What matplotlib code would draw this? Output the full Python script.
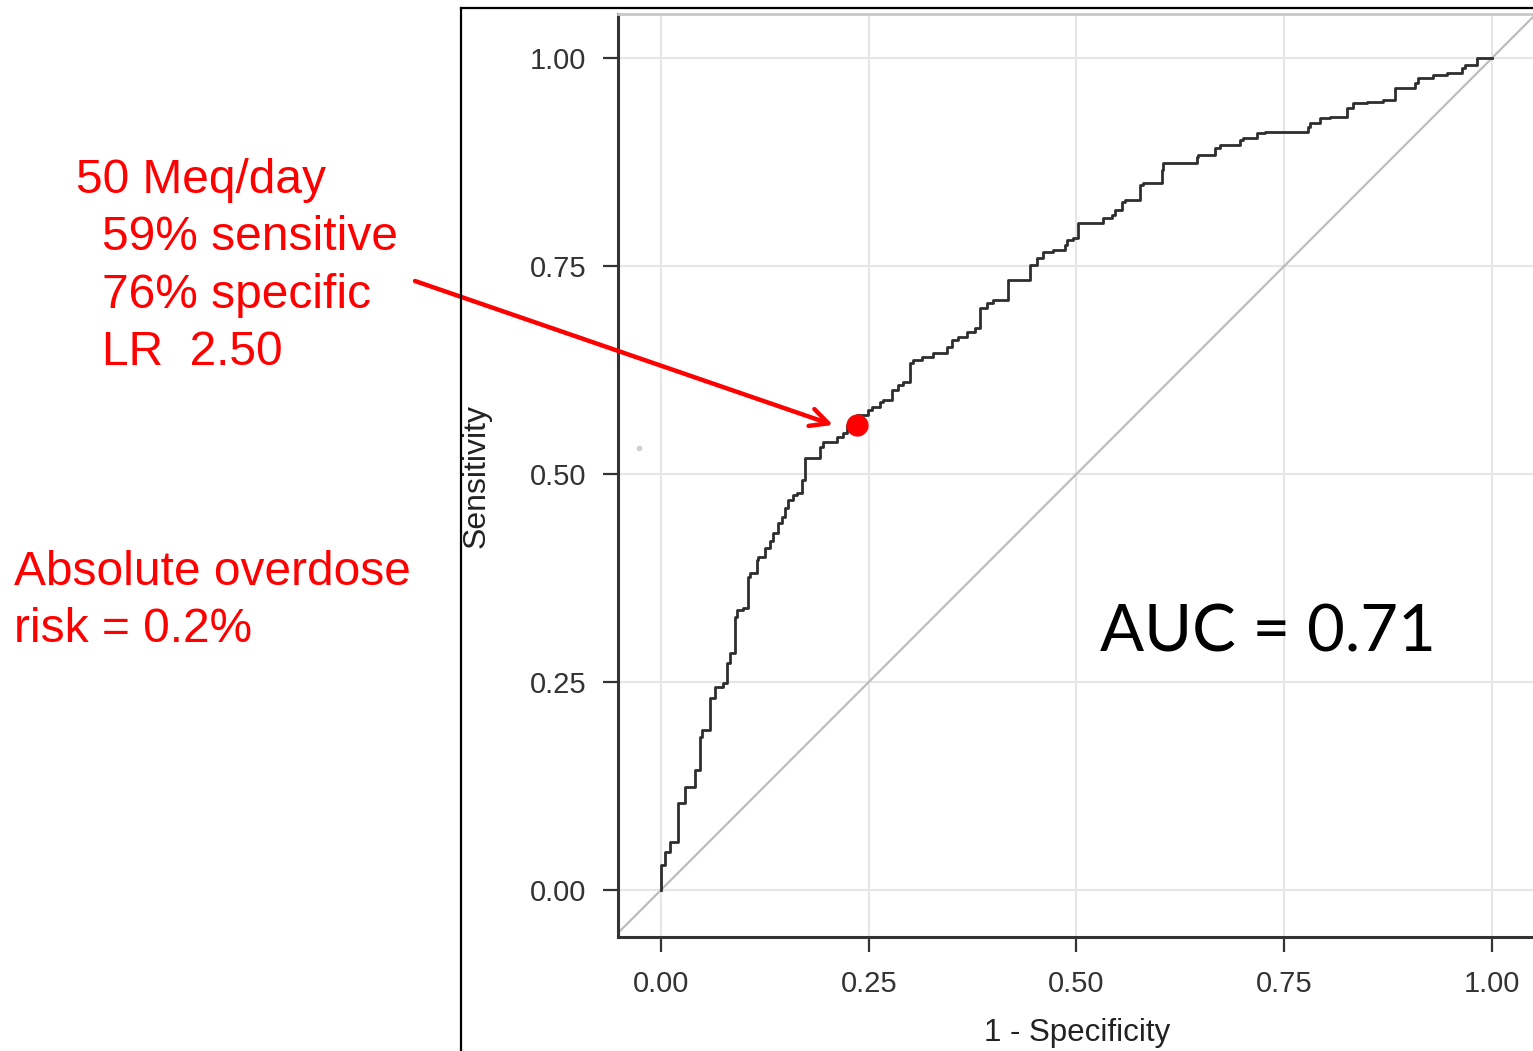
import matplotlib
matplotlib.use("Agg")
import matplotlib.pyplot as plt
from matplotlib.lines import Line2D

# ── Data ──────────────────────────────────────────────────────────────────────
FPR = [0.0, 0.0, 0.005, 0.011, 0.02, 0.029, 0.041, 0.047, 0.049, 0.059, 0.059,
       0.065, 0.075, 0.08, 0.083, 0.089, 0.091, 0.099, 0.105, 0.107, 0.115,
       0.117, 0.125, 0.131, 0.135, 0.141, 0.146, 0.149, 0.153, 0.159, 0.164,
       0.17, 0.173, 0.177, 0.191, 0.195, 0.2, 0.212, 0.219, 0.224, 0.236,
       0.249, 0.254, 0.264, 0.267, 0.278, 0.285, 0.291, 0.3, 0.303, 0.314,
       0.327, 0.332, 0.344, 0.35, 0.357, 0.368, 0.378, 0.384, 0.384, 0.392,
       0.4, 0.408, 0.418, 0.418, 0.444, 0.444, 0.452, 0.46, 0.472, 0.486,
       0.489, 0.496, 0.502, 0.508, 0.532, 0.543, 0.546, 0.555, 0.558, 0.576,
       0.58, 0.603, 0.604, 0.613, 0.645, 0.646, 0.667, 0.673, 0.697, 0.7,
       0.717, 0.727, 0.745, 0.779, 0.781, 0.793, 0.805, 0.826, 0.833, 0.85,
       0.869, 0.883, 0.883, 0.907, 0.911, 0.929, 0.946, 0.964, 0.967, 0.982,
       0.983, 1.0]
TPR = [0.0, 0.02, 0.03, 0.046, 0.058, 0.105, 0.124, 0.144, 0.184, 0.192, 0.214,
       0.231, 0.244, 0.249, 0.273, 0.285, 0.328, 0.337, 0.339, 0.376, 0.381,
       0.397, 0.40, 0.411, 0.42, 0.429, 0.441, 0.448, 0.459, 0.469, 0.475,
       0.477, 0.493, 0.519, 0.519, 0.533, 0.538, 0.538, 0.545, 0.549, 0.559,
       0.571, 0.577, 0.58, 0.587, 0.589, 0.601, 0.607, 0.611, 0.633, 0.637,
       0.641, 0.645, 0.645, 0.653, 0.661, 0.665, 0.671, 0.675, 0.695, 0.7,
       0.706, 0.709, 0.709, 0.733, 0.733, 0.749, 0.751, 0.76, 0.767, 0.769,
       0.775, 0.781, 0.784, 0.802, 0.802, 0.808, 0.811, 0.817, 0.827, 0.829,
       0.847, 0.85, 0.865, 0.874, 0.874, 0.881, 0.883, 0.892, 0.895, 0.901,
       0.904, 0.91, 0.911, 0.911, 0.917, 0.922, 0.928, 0.929, 0.94, 0.946,
       0.947, 0.95, 0.964, 0.964, 0.97, 0.976, 0.98, 0.982, 0.988, 0.991,
       1.0, 1.0]

CUTOFF_POINT = (0.236, 0.559)      # 50 Meq/day
STRAY_POINT = (-0.027, 0.531)      # faint grey speck in the source image

TICKS = [0.0, 0.25, 0.5, 0.75, 1.0]
TICK_LABELS = ["0.00", "0.25", "0.50", "0.75", "1.00"]

NOTE_LINES = ["50 Meq/day", "59% sensitive", "76% specific", "LR  2.50"]
RISK_LINES = ["Absolute overdose", "risk = 0.2%"]
AUC_TEXT = "AUC = 0.71"

RED = "#FF0000"
DARK = "#333333"
GRID = "#E6E6E6"

W, H = 1533, 1051
fig = plt.figure(figsize=(W / 100, H / 100), dpi=100, facecolor="white")

# axes box in pixels: left 618, right 1533, bottom 937, top 14
ax = fig.add_axes([618 / W, (H - 937) / H, (W - 618) / W, (937 - 14) / H])
ax.set_xlim(-0.0517, 1.0493)
ax.set_ylim(-0.0565, 1.0529)

ax.grid(True, color=GRID, lw=1.5)
ax.set_axisbelow(True)
ax.axline((0, 0), slope=1, color="#BDBDBD", lw=1.6, zorder=2)
ax.plot(FPR, TPR, drawstyle="steps-pre", color="#2E2E2E", lw=2.0, zorder=3)
ax.plot(*STRAY_POINT, "o", ms=4, color="#CFCFCF", mec="none", zorder=2)
ax.plot(*CUTOFF_POINT, "o", ms=16, color=RED, mec="none", zorder=5)

ax.set_xticks(TICKS)
ax.set_xticklabels(TICK_LABELS)
ax.set_yticks(TICKS)
ax.set_yticklabels(TICK_LABELS)
ax.tick_params(direction="out", length=11, width=1.6, color=DARK,
               labelcolor=DARK, labelsize=21)
ax.tick_params(axis="y", pad=12)
ax.tick_params(axis="x", pad=13)
for lbl in ax.get_xticklabels() + ax.get_yticklabels():
    lbl.set_family("Liberation Sans")

for side in ("left", "bottom"):
    ax.spines[side].set_linewidth(2.2)
    ax.spines[side].set_color(DARK)
ax.spines["top"].set_color("#C8C8C8")
ax.spines["top"].set_linewidth(2)
ax.spines["right"].set_visible(False)

ax.set_xlabel("1 - Specificity", family="Liberation Sans", fontsize=22.5,
              color="#222222", va="top")
ax.xaxis.set_label_coords(0.5016, -0.088)
ax.set_ylabel("Sensitivity", family="Liberation Sans", fontsize=23,
              color="#222222")
ax.yaxis.set_label_coords(-0.138, 0.5)

fig.text(1100 / W, (H - 651) / H, AUC_TEXT, family="Lato", fontsize=47,
         color="black", ha="left", va="baseline")

# outer frame of the pasted image
fig.add_artist(Line2D([461 / W, 461 / W], [0, (H - 8) / H], color="black",
                      lw=1.6, transform=fig.transFigure))
fig.add_artist(Line2D([461 / W, 1], [(H - 8) / H, (H - 8) / H], color="black",
                      lw=1.6, transform=fig.transFigure))

# red annotation text
FS = 34.5
fig.text(76 / W, (H - 193) / H, NOTE_LINES[0], family="Liberation Sans",
         fontsize=FS, color=RED, va="baseline")
for i, line in enumerate(NOTE_LINES[1:]):
    fig.text(102 / W, (H - 250 - 57.5 * i) / H, line, family="Liberation Sans",
             fontsize=FS, color=RED, va="baseline")
for i, line in enumerate(RISK_LINES):
    fig.text(14 / W, (H - 585 - 57 * i) / H, line, family="Liberation Sans",
             fontsize=FS, color=RED, va="baseline")

ax.annotate("", xy=(0.207, 0.559), xycoords="data",
            xytext=(415 / W, (H - 281) / H), textcoords="figure fraction",
            arrowprops=dict(arrowstyle="->", color=RED, lw=3.2,
                            mutation_scale=32, shrinkA=0, shrinkB=0),
            annotation_clip=False, zorder=6)

fig.savefig("out.png", dpi=100, facecolor="white")
